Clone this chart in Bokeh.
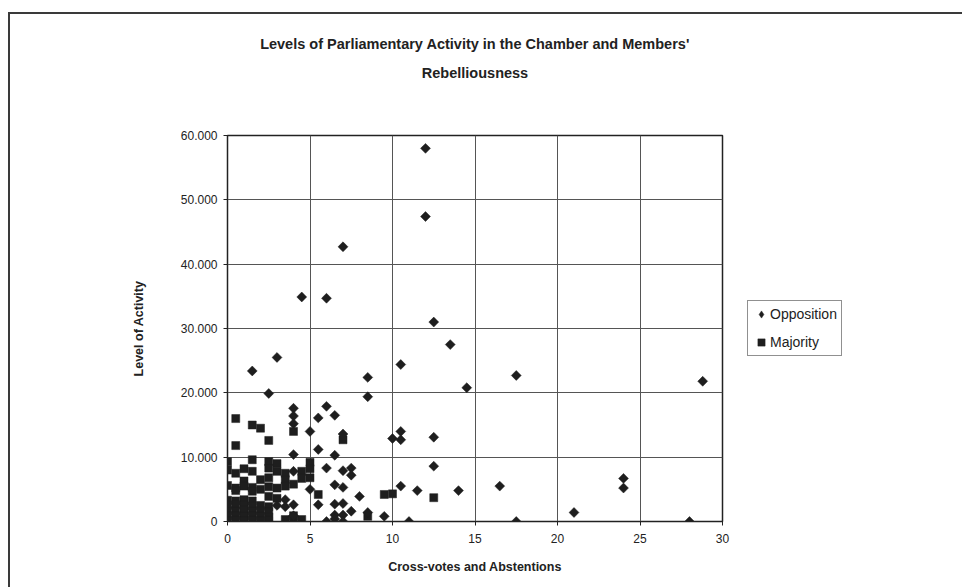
import math
from bokeh.plotting import figure
from bokeh.models import Range1d, FixedTicker, Legend, LegendItem, ColumnDataSource, Title
from bokeh.embed import file_html
from bokeh.resources import INLINE

# ---- data (y values in units; axis shows "10.000" = 10,000) ----
title_lines = ["Levels of Parliamentary Activity in the Chamber and Members'", "Rebelliousness"]
x_label = "Cross-votes and Abstentions"
y_label = "Level of Activity"
series_names = ["Opposition", "Majority"]
x_ticks = [0, 5, 10, 15, 20, 25, 30]
y_ticks = [0, 10000, 20000, 30000, 40000, 50000, 60000]
y_tick_labels = ["0", "10.000", "20.000", "30.000", "40.000", "50.000", "60.000"]

opp_x = [12.0, 12.0, 7.0, 4.5, 6.0, 12.5, 13.5, 3.0, 10.5, 1.5, 17.5, 8.5, 28.8, 14.5, 2.5,
         8.5, 6.0, 4.0, 6.5, 4.0, 5.5, 4.0, 10.5, 5.0, 7.0, 12.5, 10.0, 10.5, 5.5, 4.0,
         6.5, 12.5, 6.0, 7.5, 7.0, 4.0, 7.5, 24.0, 6.5, 10.5, 16.5, 7.0, 24.0, 5.0, 11.5,
         14.0, 8.0, 3.5, 5.5, 6.5, 7.0, 4.0, 3.0, 3.5, 6.5, 7.0, 7.5, 21.0, 4.0, 8.5,
         9.5, 6.0, 7.0, 11.0, 17.5, 28.0, 6.5]
opp_y = [58000, 47400, 42700, 34900, 34700, 31000, 27500, 25500, 24400, 23400, 22700, 22400, 21800, 20800, 19900,
         19400, 17900, 17600, 16500, 16400, 16100, 15200, 14000, 14000, 13600, 13100, 12900, 12700, 11200, 10400,
         10300, 8600, 8300, 8300, 7900, 7800, 7200, 6700, 5700, 5500, 5500, 5300, 5200, 5000, 4800,
         4800, 3900, 3400, 2600, 2700, 2800, 2600, 2500, 2300, 1000, 1000, 1600, 1400, 900, 1400,
         800, 0, 0, 0, 0, 0, 400]

maj_x = [0.5, 1.5, 2.0, 2.5, 0.5, 4.0, 7.0,
         0.0, 1.5, 2.5, 3.0, 5.0,
         0.0, 0.5, 1.0, 1.5, 2.5, 3.0, 3.5, 4.5, 5.0,
         2.5, 3.5, 4.5, 5.0, 1.0, 2.0,
         0.0, 0.5, 1.0, 1.5, 2.0, 2.5, 3.0, 3.5, 4.0, 0.5, 1.5,
         2.5, 3.0, 5.5, 9.5, 10.0, 12.5,
         0.0, 0.5, 1.0, 1.5,
         0.0, 0.5, 1.0, 1.5, 2.0, 2.5,
         0.0, 0.5, 1.0, 1.5, 2.0, 2.5,
         0.0, 0.5, 1.0, 1.5, 2.0, 2.5,
         0.0, 0.5, 1.0, 1.5, 2.0, 2.5,
         3.5, 4.0, 4.5, 4.0, 8.5]
maj_y = [16000, 15000, 14500, 12600, 11800, 14000, 12700,
         9300, 9600, 9300, 9000, 9200,
         8000, 7500, 8200, 7800, 8300, 7800, 7500, 7800, 8200,
         6800, 6500, 6700, 6800, 6300, 6500,
         5600, 5200, 5500, 5300, 5000, 5400, 5200, 5500, 5800, 4800, 4700,
         3900, 3600, 4200, 4200, 4300, 3700,
         3300, 3200, 3400, 3200,
         2500, 2600, 2500, 2400, 2500, 2300,
         1700, 1600, 1800, 1600, 1700, 1500,
         900, 900, 800, 900, 800, 700,
         100, 200, 100, 200, 100, 200,
         300, 200, 300, 900, 800]

FONT = "Liberation Sans"
INK = "#1e1e1e"
TXT = "#222222"

# target frame in page px: x 227..722, y 135..521
# canvas starts at page (10, 14): 8/12px css margin + 2px css border
p = figure(frame_width=495, frame_height=386, output_backend="svg", toolbar_location=None,
           x_range=Range1d(0, 30), y_range=Range1d(0, 60000),
           min_border_left=217, min_border_right=236, min_border_top=121, min_border_bottom=66)
p.background_fill_color = "white"
p.border_fill_color = "white"
p.outline_line_color = TXT
p.outline_line_width = 1.5
p.styles = {
    "margin-left": "8px", "margin-top": "12px",
    "border-left": "2px solid #3a3a3a", "border-top": "2px solid #3a3a3a",
}

for ax in (p.xaxis[0], p.yaxis[0]):
    ax.major_label_text_font = FONT
    ax.major_label_text_font_size = "12px"
    ax.major_label_text_color = TXT
    ax.axis_label_text_font = FONT
    ax.axis_label_text_font_size = "12.5px"
    ax.axis_label_text_font_style = "bold"
    ax.axis_label_text_color = TXT
    ax.axis_line_color = TXT
    ax.major_tick_line_color = TXT
    ax.major_tick_in = 0
    ax.major_tick_out = 4
    ax.minor_tick_line_color = None

p.xaxis.ticker = FixedTicker(ticks=x_ticks)
p.yaxis.ticker = FixedTicker(ticks=y_ticks)
p.yaxis.major_label_overrides = {t: s for t, s in zip(y_ticks, y_tick_labels)}
p.xaxis.axis_label = x_label
p.yaxis.axis_label = y_label
p.xaxis.major_label_standoff = 8
p.xaxis.axis_label_standoff = 14
p.yaxis.major_label_standoff = 6
p.yaxis.axis_label_standoff = 32

p.xgrid.ticker = FixedTicker(ticks=x_ticks)
p.ygrid.ticker = FixedTicker(ticks=y_ticks)
p.grid.grid_line_color = "#555555"
p.grid.grid_line_width = 1

src_opp = ColumnDataSource(dict(x=opp_x, y=opp_y))
src_maj = ColumnDataSource(dict(x=maj_x, y=maj_y))
r_maj = p.scatter("x", "y", source=src_maj, marker="square", size=8,
                  fill_color=INK, line_color=INK, line_width=0.5)
r_opp = p.scatter("x", "y", source=src_opp, marker="square", angle=math.pi / 4, size=7,
                  fill_color=INK, line_color=INK, line_width=0.5)
# legend swatch for the diamonds (legend swatches are drawn unrotated); its one point is NaN, so nothing is plotted
r_opp_key = p.scatter(x=[float("nan")], y=[float("nan")], marker="diamond",
                      fill_color=INK, line_color=INK, line_width=0.5)

legend = Legend(items=[LegendItem(label=series_names[0], renderers=[r_opp_key]),
                       LegendItem(label=series_names[1], renderers=[r_maj])],
                location="center_left")
legend.label_text_font = FONT
legend.label_text_font_size = "14px"
legend.label_text_color = TXT
legend.border_line_color = TXT
legend.border_line_width = 1
legend.background_fill_color = "white"
legend.padding = 4
legend.spacing = 10
legend.glyph_width = 18
legend.glyph_height = 18
legend.label_standoff = 0
legend.margin = 25
p.add_layout(legend, "right")

# title: panels stack outward from the frame in the order added: spacer, line 2, then p.title (line 1)
TSTYLE = dict(align="center", text_font=FONT, text_font_size="14.5px", text_font_style="bold", text_color=TXT)
p.title.text = title_lines[0]
p.title.align = "center"
p.title.text_font = FONT
p.title.text_font_size = "14.5px"
p.title.text_font_style = "bold"
p.title.text_color = TXT
p.title.standoff = 22
p.add_layout(Title(text=" ", standoff=37, **TSTYLE), "above")
p.add_layout(Title(text=title_lines[1], standoff=0, **TSTYLE), "above")

open("out.html", "w").write(file_html(p, INLINE))
